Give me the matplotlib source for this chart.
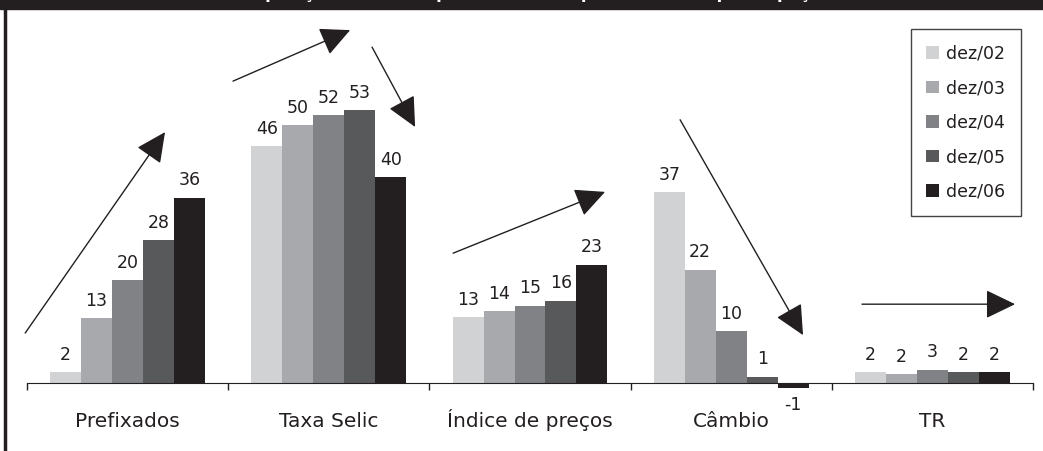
import matplotlib
matplotlib.use("Agg")
import matplotlib.pyplot as plt
from matplotlib.patches import Rectangle
from matplotlib.lines import Line2D
import numpy as np

plt.rcParams['font.family'] = ['DejaVu Sans']

categories = ['Prefixados', 'Taxa Selic', 'Índice de preços', 'Câmbio', 'TR']
periods = ['dez/02', 'dez/03', 'dez/04', 'dez/05', 'dez/06']
colors = ['#d1d2d4', '#a7a9ac', '#808285', '#58595b', '#231f20']

# participação (%) por indexador, uma lista por período
dez02 = [2.1, 46, 12.8, 37, 2.1]
dez03 = [12.6, 50, 14, 22, 1.7]
dez04 = [20, 52, 15, 10, 2.6]
dez05 = [27.7, 53, 16, 1.2, 2.1]
dez06 = [36, 40, 23, -1, 2.1]
series = [dez02, dez03, dez04, dez05, dez06]

# setas de tendência (início, ponta) em coordenadas de dados
arrows = [
    ((-0.509, 9.7), (0.186, 48.7)),
    ((0.524, 58.6), (1.106, 68.5)),
    ((1.215, 65.2), (1.429, 49.7)),
    ((1.618, 25.2), (2.373, 37.1)),
    ((2.746, 51.1), (3.357, 9.3)),
    ((3.650, 15.3), (4.411, 15.3)),
]

fig = plt.figure(figsize=(10.43, 4.51), dpi=100)
ax = fig.add_axes([27 / 1043, 0, 1006 / 1043, 442 / 451])

x = np.arange(len(categories))
w = 0.154
for i, (vals, lab, c) in enumerate(zip(series, periods, colors)):
    bars = ax.bar(x + (i - 2) * w, vals, w, color=c, label=lab, zorder=2)
    ax.bar_label(bars, labels=[f"{v:.0f}" for v in vals], padding=6,
                 fontsize=12.5, color='#231f20')

for start, end in arrows:
    ax.annotate('', xy=end, xytext=start, annotation_clip=False,
                arrowprops=dict(arrowstyle='-|>,head_length=0.62,head_width=0.3',
                                lw=1, color='#231f20',
                                mutation_scale=30, shrinkA=0, shrinkB=0))

ax.set_xlim(-0.5, 4.5)
ax.set_ylim(-13.2, 72.6)
for s in ['top', 'right', 'left']:
    ax.spines[s].set_visible(False)
ax.spines['bottom'].set_position(('data', 0))
ax.spines['bottom'].set_color('#231f20')
ax.set_yticks([])
ax.set_xticks(np.arange(-0.5, 5, 1))
ax.set_xticklabels([])
ax.tick_params(axis='x', which='major', direction='out', length=5, width=1,
               color='#231f20')
ax.set_xticks(x, minor=True)
ax.set_xticklabels(categories, minor=True, fontsize=14.5, color='#231f20')
for t in ax.get_xticklabels(minor=True):
    t.set_va('baseline')
ax.tick_params(axis='x', which='minor', length=0, pad=32)
ax.patch.set_visible(False)

leg = ax.legend(loc='upper right', bbox_to_anchor=(1021 / 1043, 1 - 29 / 451),
                bbox_transform=fig.transFigure, fancybox=False,
                edgecolor='#444444', framealpha=1, fontsize=12.5,
                handlelength=0.75, handleheight=0.75, handletextpad=0.4,
                labelspacing=0.95, borderpad=0.9, borderaxespad=0)
leg.get_frame().set_linewidth(1)
for t in leg.get_texts():
    t.set_color('#231f20')

# faixa de título cortada no topo e borda esquerda
fig.patches.append(Rectangle((0, 1 - 9 / 451), 1, 9 / 451, transform=fig.transFigure,
                             color='#231f20', zorder=5))
fig.text(0.51, 1.005, 'Composição da DPMFi por indexador (percentual de participação)',
         color='white', fontsize=12, fontweight='bold', ha='center', va='baseline',
         zorder=6)
fig.lines.append(Line2D([5 / 1043, 5 / 1043], [0, 1], transform=fig.transFigure,
                        color='#231f20', lw=2.5, zorder=5))

fig.savefig('out.png', dpi=100)
